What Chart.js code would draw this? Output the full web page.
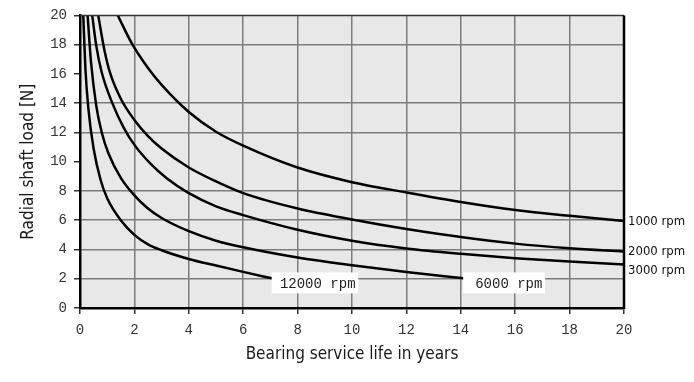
<!DOCTYPE html>
<html><head><meta charset="utf-8">
<script src="https://cdn.jsdelivr.net/npm/chart.js@4.4.1/dist/chart.umd.min.js"></script>
<style>html,body{margin:0;padding:0;background:#fff;}canvas{display:block;}</style>
</head><body>
<canvas id="c" width="694" height="382"></canvas>
<script>
// ---- data ----
const seriesNames = ['1000 rpm', '2000 rpm', '3000 rpm', '6000 rpm', '12000 rpm'];

const years1000 = [1.39, 1.9, 2.5, 3, 4, 5, 6, 8, 10, 12, 14, 16, 18, 20];
const load1000  = [20, 18.1, 16.4, 15.25, 13.4, 12.05, 11.1, 9.6, 8.6, 7.9, 7.25, 6.7, 6.3, 5.95];

const years2000 = [0.67, 0.9, 1.1, 1.5, 2, 2.5, 3, 4, 5, 6, 8, 10, 12, 14, 16, 18, 20];
const load2000  = [20, 17.6, 16.1, 14.3, 12.85, 11.75, 10.9, 9.6, 8.65, 7.85, 6.8, 6.05, 5.4, 4.85, 4.4, 4.08, 3.85];

const years3000 = [0.45, 0.6, 0.8, 1.2, 1.6, 2, 2.6, 3.2, 4, 5, 6, 8, 10, 12, 14, 16, 18, 20];
const load3000  = [20, 17.9, 16.1, 13.95, 12.35, 11.15, 9.85, 8.85, 7.85, 6.95, 6.35, 5.35, 4.6, 4.07, 3.7, 3.4, 3.17, 2.97];

const years6000 = [0.28, 0.4, 0.6, 0.8, 1.04, 1.5, 2, 2.5, 3, 4, 5, 6, 8, 10, 12, 14.09];
const load6000  = [20, 16.9, 13.8, 12.0, 10.6, 8.9, 7.7, 6.8, 6.15, 5.25, 4.6, 4.15, 3.45, 2.92, 2.46, 2.03];

const years12000 = [0.12, 0.2, 0.31, 0.5, 0.75, 1, 1.5, 2, 2.5, 3, 4, 5, 6, 7.05];
const load12000  = [20, 16.3, 13.6, 10.9, 8.8, 7.5, 6.0, 5.0, 4.35, 3.95, 3.35, 2.9, 2.47, 2.03];

const xTickValues = [0, 2, 4, 6, 8, 10, 12, 14, 16, 18, 20];
const yTickValues = [0, 2, 4, 6, 8, 10, 12, 14, 16, 18, 20];
const yGridSkipped = [10, 16];   // no horizontal grid line at these ticks in the reference

const xTitle = 'Bearing service life in years';
const yTitle = 'Radial shaft load [N]';

// ---- annotation placement (data units) ----
const endLabels = [
  { text: '1000 rpm', y: 5.87 },
  { text: '2000 rpm', y: 3.85 },
  { text: '3000 rpm', y: 2.56 }
];
const boxLabels = [
  { text: '12000 rpm', x0: 7.05, x1: 10.23, yTop: 2.43, yBot: 1.0, tx: 7.35 },
  { text: '6000 rpm',  x0: 14.09, x1: 17.1, yTop: 2.43, yBot: 1.0, tx: 14.53 }
];

const pairs = (xs, ys) => xs.map((x, i) => ({ x: x, y: ys[i] }));
const allYears = [years1000, years2000, years3000, years6000, years12000];
const allLoads = [load1000, load2000, load3000, load6000, load12000];

const narrow = '"Liberation Sans Narrow", "DejaVu Sans Condensed", "Arial Narrow", sans-serif';
const mono = '"Liberation Mono", "DejaVu Sans Mono", monospace';

const framePlugin = {
  id: 'frame',
  beforeDraw(chart) {
    const { ctx, chartArea: a } = chart;
    ctx.save();
    ctx.fillStyle = '#e8e8e8';
    ctx.fillRect(a.left, a.top, a.right - a.left, a.bottom - a.top);
    ctx.restore();
  },
  afterDatasetsDraw(chart) {
    const { ctx, chartArea: a, scales: { x, y } } = chart;
    ctx.save();
    ctx.strokeStyle = '#333';
    ctx.lineWidth = 1.5;
    ctx.beginPath(); ctx.moveTo(a.left, a.top); ctx.lineTo(a.right, a.top); ctx.stroke();
    ctx.strokeStyle = '#000';
    ctx.lineWidth = 2.5;
    ctx.beginPath(); ctx.moveTo(a.right, a.top); ctx.lineTo(a.right, a.bottom + 1); ctx.stroke();
    ctx.font = '14px ' + mono;
    ctx.textBaseline = 'middle';
    ctx.textAlign = 'left';
    boxLabels.forEach(b => {
      const l = x.getPixelForValue(b.x0), r = x.getPixelForValue(b.x1);
      const t = y.getPixelForValue(b.yTop), bt = y.getPixelForValue(b.yBot);
      ctx.fillStyle = '#fff';
      ctx.fillRect(l, t, r - l, bt - t);
      ctx.fillStyle = '#222';
      ctx.fillText(b.text, x.getPixelForValue(b.tx), (t + bt) / 2 + 1);
    });
    ctx.font = '13px ' + narrow;
    ctx.fillStyle = '#111';
    endLabels.forEach(e => {
      ctx.fillText(e.text, a.right + 4, y.getPixelForValue(e.y));
    });
    ctx.restore();
  }
};

new Chart(document.getElementById('c'), {
  type: 'line',
  data: {
    datasets: seriesNames.map((name, i) => ({
      label: name,
      data: pairs(allYears[i], allLoads[i]),
      borderColor: '#000',
      borderWidth: 2.5,
      pointRadius: 0,
      fill: false,
      cubicInterpolationMode: 'monotone'
    }))
  },
  options: {
    responsive: false,
    animation: false,
    layout: { padding: { left: 0, right: 70, top: 14, bottom: 0 } },
    plugins: { legend: { display: false }, tooltip: { enabled: false } },
    scales: {
      x: {
        type: 'linear', min: 0, max: 20,
        afterBuildTicks(s) { s.ticks = xTickValues.map(v => ({ value: v })); },
        afterFit(s) { s.height = 74; },
        ticks: { padding: 8, color: '#333', font: { family: mono, size: 14 }, maxRotation: 0, autoSkip: false },
        grid: {
          color: c => (c.tick && (c.tick.value === 0 || c.tick.value === 20)) ? 'rgba(0,0,0,0)' : '#7c7c7c',
          lineWidth: 1.5, tickColor: '#333', tickLength: 6
        },
        border: { color: '#000', width: 2.5 },
        title: { display: true, text: xTitle, color: '#1a1a1a', font: { family: narrow, size: 17 }, padding: { top: 0, bottom: 17 } }
      },
      y: {
        type: 'linear', min: 0, max: 20,
        afterBuildTicks(s) { s.ticks = yTickValues.map(v => ({ value: v })); },
        afterFit(s) { s.width = 80; },
        ticks: { padding: 7, color: '#333', font: { family: mono, size: 14 }, autoSkip: false },
        grid: {
          color: c => (c.tick && (c.tick.value === 0 || c.tick.value === 20 || yGridSkipped.includes(c.tick.value))) ? 'rgba(0,0,0,0)' : '#7c7c7c',
          lineWidth: 1.5, tickColor: '#333', tickLength: 6
        },
        border: { color: '#000', width: 2.5 },
        title: { display: true, text: yTitle, color: '#1a1a1a', font: { family: narrow, size: 17 }, padding: { top: 18, bottom: 0 } }
      }
    }
  },
  plugins: [framePlugin]
});
</script>
</body></html>
